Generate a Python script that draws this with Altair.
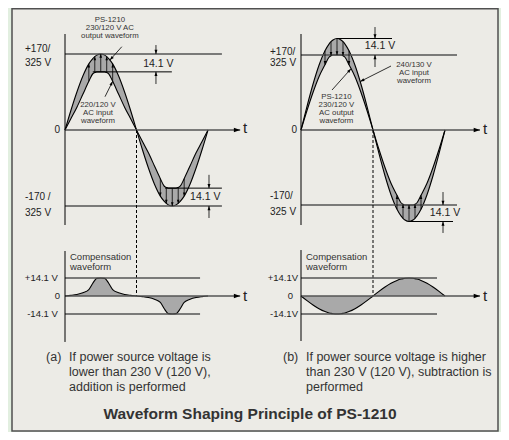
import math
import altair as alt
import pandas as pd

W, H = 493, 424
FONT = "Liberation Sans"
BG = "#e2efe0"
PANEL_BG = "#ecebe6"
FILL = "#a9a9a9"
GRID = "#555555"
INK = "#222222"
SHAPE = "M0,0L0.7,2L-0.7,2Z"

# ---------------- values ----------------
phase = [0, 15, 30, 45, 60, 70, 75, 80, 90, 100, 105, 110, 120, 135, 150, 165, 180,
         195, 210, 225, 240, 250, 255, 260, 270, 280, 285, 290, 300, 315, 330, 345, 360]

# (a) relative units, 1.0 = the +170/325 V line
a_output = [0, 0.26, 0.50, 0.71, 0.87, 0.94, 0.966, 0.985, 1.0, 0.985, 0.966, 0.94, 0.87, 0.71, 0.50, 0.26, 0,
            -0.26, -0.50, -0.71, -0.87, -0.94, -0.966, -0.985, -1.0, -0.985, -0.966, -0.94, -0.87, -0.71, -0.50, -0.26, 0]
a_input = [0, 0.15, 0.30, 0.47, 0.64, 0.74, 0.755, 0.765, 0.765, 0.765, 0.755, 0.74, 0.64, 0.47, 0.30, 0.15, 0,
           -0.15, -0.30, -0.47, -0.64, -0.74, -0.755, -0.765, -0.765, -0.765, -0.755, -0.74, -0.64, -0.47, -0.30, -0.15, 0]
# (a) compensation waveform, volts
a_comp = [0, 0.5, 1.2, 2.5, 5.0, 10.0, 12.3, 13.8, 14.1, 13.8, 12.3, 10.0, 5.0, 2.5, 1.2, 0.5, 0,
          -0.5, -1.2, -2.5, -5.0, -10.0, -12.3, -13.8, -14.1, -13.8, -12.3, -10.0, -5.0, -2.5, -1.2, -0.5, 0]

# (b) relative units
b_input = [0, 0.316, 0.61, 0.863, 1.057, 1.146, 1.178, 1.201, 1.22, 1.201, 1.178, 1.146, 1.057, 0.863, 0.61, 0.316, 0,
           -0.316, -0.61, -0.863, -1.057, -1.146, -1.178, -1.201, -1.22, -1.201, -1.178, -1.146, -1.057, -0.863, -0.61, -0.316, 0]
b_output = [0, 0.26, 0.50, 0.71, 0.87, 0.97, 0.99, 1.0, 1.0, 1.0, 0.99, 0.97, 0.87, 0.71, 0.50, 0.26, 0,
            -0.26, -0.50, -0.71, -0.87, -0.97, -0.99, -1.0, -1.0, -1.0, -0.99, -0.97, -0.87, -0.71, -0.50, -0.26, 0]
# (b) compensation waveform, volts
b_comp = [0, -3.65, -7.05, -9.97, -12.21, -13.25, -13.62, -13.89, -14.1, -13.89, -13.62, -13.25, -12.21, -9.97, -7.05, -3.65, 0,
          3.65, 7.05, 9.97, 12.21, 13.25, 13.62, 13.89, 14.1, 13.89, 13.62, 13.25, 12.21, 9.97, 7.05, 3.65, 0]

gap_arrow_phase = [60, 75, 90, 105, 120, 240, 255, 270, 285, 300]

title_text = "Waveform Shaping Principle of PS-1210"
caption_a = ["If power source voltage is", "lower than 230 V  (120 V),", "addition is performed"]
caption_b = ["If power source voltage is higher", "than 230 V  (120 V), subtraction is", "performed"]

# ---------------- panel geometry (chart pixels) ----------------
PA_UP = dict(x0=57, kx=143 / 360, y0=122, ky=76)
PA_LO = dict(x0=57, kx=143 / 360, y0=288, ky=18 / 14.1)
PB_UP = dict(x0=293, kx=144 / 360, y0=122, ky=75)
PB_LO = dict(x0=293, kx=144 / 360, y0=288, ky=18 / 14.1)


class Panel:
    def __init__(self, p):
        self.p = p
        self.xs = alt.Scale(domain=[-p["x0"] / p["kx"], (W - p["x0"]) / p["kx"]], nice=False, zero=False)
        self.ys = alt.Scale(domain=[(p["y0"] - H) / p["ky"], p["y0"] / p["ky"]], nice=False, zero=False)
        self.layers = []

    def X(self, f):
        return alt.X(f, type="quantitative", scale=self.xs, axis=None)

    def Y(self, f):
        return alt.Y(f, type="quantitative", scale=self.ys, axis=None)

    def fill(self, df, hi, lo):
        y2 = alt.Y2(lo) if isinstance(lo, str) else alt.datum(lo)
        self.layers.append(alt.Chart(df).mark_area(color=FILL, opacity=1, interpolate="monotone")
                           .encode(x=self.X("ph"), y=self.Y(hi), y2=y2))

    def curve(self, df, col, width=1.1):
        self.layers.append(alt.Chart(df).mark_line(color="black", strokeWidth=width, interpolate="monotone")
                           .encode(x=self.X("ph"), y=self.Y(col)))

    def segs(self, rows, **style):
        df = pd.DataFrame(rows, columns=["x", "x2", "y", "y2"])
        self.layers.append(alt.Chart(df).mark_rule(**style)
                           .encode(x=self.X("x"), x2="x2:Q", y=self.Y("y"), y2="y2:Q"))

    def heads(self, rows, size):
        df = pd.DataFrame(rows, columns=["x", "y", "ang"])
        self.layers.append(alt.Chart(df).mark_point(shape=SHAPE, filled=True, color="black", opacity=1,
                                                    size=size, strokeWidth=0)
                           .encode(x=self.X("x"), y=self.Y("y"), angle=alt.Angle("ang:Q", scale=None)))

    def arrows(self, pairs, size=18):
        segs, heads = [], []
        for (tx, ty), (hx, hy) in pairs:
            dx = self.p["kx"] * (hx - tx)
            dy = -self.p["ky"] * (hy - ty)
            ang = math.degrees(math.atan2(dx, -dy)) % 360
            segs.append((tx, hx, ty, hy))
            heads.append((hx, hy, ang))
        self.segs(segs, color="black", strokeWidth=0.8)
        self.heads(heads, size)

    def texts(self, rows, **style):
        df = pd.DataFrame(rows, columns=["x", "y", "text"])
        st = dict(font=FONT, baseline="middle", color=INK)
        st.update(style)
        self.layers.append(alt.Chart(df).mark_text(**st)
                           .encode(x=self.X("x"), y=self.Y("y"), text="text:N"))

    def chart(self):
        return alt.layer(*self.layers)


def gap_pairs(inp, out):
    return [((ph, inp[phase.index(ph)]), (ph, out[phase.index(ph)])) for ph in gap_arrow_phase]


# ---------------- (a) upper ----------------
A = Panel(PA_UP)
dfa = pd.DataFrame({"ph": phase, "out": a_output, "inp": a_input})
A.fill(dfa, "out", "inp")
A.curve(dfa, "out")
A.curve(dfa, "inp")
A.segs([(0, 395, 1, 1), (0, 395, -1, -1), (0, 441, 0, 0)], color=GRID, strokeWidth=1.4)
A.segs([(70, 269, 0.765, 0.765), (252, 395, -0.765, -0.765), (0, 0, -1.25, 1.263)], color="black", strokeWidth=1)
A.segs([(180, 180, 0, -2.184)], color="black", strokeWidth=1, strokeDash=[3, 2])
A.heads([(441, 0, 90)], 40)
A.arrows(gap_pairs(a_input, a_output), size=14)
A.arrows([((229, 1.118), (229, 1.0)), ((229, 0.605), (229, 0.765)),
          ((362.5, -0.59), (362.5, -0.765)), ((362.5, -1.158), (362.5, -1.0)),
          ((143, 1.096), (113, 0.92)), ((100.7, 0.438), (120, 0.64))], size=18)
A.texts([(113, 1.452, "PS-1210"), (113, 1.342, "230/120 V AC"), (113, 1.232, "output waveform"),
         (83, 0.335, "220/120 V"), (83, 0.225, "AC input"), (83, 0.115, "waveform")],
        fontSize=7.8, align="center", color="#333333")
A.texts([(235, 0.87, "14.1 V"), (353, -0.88, "14.1 V")], fontSize=10.5, align="center")
A.texts([(-100.7, 1.066, "+170/"), (-100.7, 0.882, "325 V"), (-100.7, -0.882, "-170 /"),
         (-100.7, -1.092, "325 V")], fontSize=10, align="left")
A.texts([(-12.6, 0, "0")], fontSize=10, align="right")
A.texts([(448, 0.02, "t")], fontSize=15, align="left")

# ---------------- (a) lower ----------------
AL = Panel(PA_LO)
dfac = pd.DataFrame({"ph": phase, "c": a_comp})
AL.fill(dfac, "c", 0)
AL.curve(dfac, "c")
AL.segs([(0, 340, 14.1, 14.1), (0, 340, -14.1, -14.1), (0, 441, 0, 0)], color=GRID, strokeWidth=1.4)
AL.segs([(0, 0, -36, 35.25)], color="black", strokeWidth=1)
AL.heads([(441, 0, 90)], 40)
AL.texts([(12.6, 30.7, "Compensation"), (12.6, 22.9, "waveform")], fontSize=9.5, align="left", color="#333333")
AL.texts([(-18, 14.1, "+14.1 V"), (-12.6, 0, "0"), (-18, -14.1, "-14.1 V")], fontSize=9.5, align="right")
AL.texts([(448, 0.3, "t")], fontSize=15, align="left")
AL.texts([(-47.8, -47.8, "(a)")], fontSize=12.5, align="left", color="#333333")
AL.texts([(10.1, -47.8, caption_a[0]), (10.1, -59.5, caption_a[1]), (10.1, -71.3, caption_a[2])],
         fontSize=12.5, align="left", color="#333333")

# ---------------- (b) upper ----------------
B = Panel(PB_UP)
dfb = pd.DataFrame({"ph": phase, "out": b_output, "inp": b_input})
B.fill(dfb, "inp", "out")
B.curve(dfb, "inp")
B.curve(dfb, "out")
B.segs([(0, 390, 1, 1), (0, 390, -1, -1), (0, 447.5, 0, 0)], color=GRID, strokeWidth=1.4)
B.segs([(90, 227.5, 1.22, 1.22), (270, 380, -1.22, -1.22), (0, 0, -1.267, 1.28)], color="black", strokeWidth=1)
B.segs([(180, 180, 0, -2.213)], color="black", strokeWidth=1, strokeDash=[3, 2])
B.heads([(447.5, 0, 90)], 40)
B.arrows(gap_pairs(b_input, b_output), size=14)
B.arrows([((185, 1.373), (185, 1.22)), ((185, 0.84), (185, 1.0)),
          ((355, -0.827), (355, -1.0)), ((355, -1.373), (355, -1.22)),
          ((225, 0.853), (148, 0.646)), ((77.5, 0.533), (125, 0.817))], size=18)
B.texts([(282.5, 0.867, "240/130 V"), (282.5, 0.757, "AC input"), (282.5, 0.647, "waveform"),
         (88.5, 0.445, "PS-1210"), (88.5, 0.335, "230/120 V"), (88.5, 0.225, "AC output"),
         (88.5, 0.115, "waveform")], fontSize=7.8, align="center", color="#333333")
B.texts([(197.5, 1.12, "14.1 V"), (360, -1.107, "14.1 V")], fontSize=10.5, align="center")
B.texts([(-77.5, 1.04, "+170/"), (-77.5, 0.893, "325 V"), (-77.5, -0.88, "-170/"),
         (-77.5, -1.093, "325 V")], fontSize=10, align="left")
B.texts([(-10, 0, "0")], fontSize=10, align="right")
B.texts([(455, 0.02, "t")], fontSize=15, align="left")

# ---------------- (b) lower ----------------
BL = Panel(PB_LO)
dfbc = pd.DataFrame({"ph": phase, "c": b_comp})
BL.fill(dfbc, "c", 0)
BL.curve(dfbc, "c")
BL.segs([(0, 340, 14.1, 14.1), (0, 340, -14.1, -14.1), (0, 447.5, 0, 0)], color=GRID, strokeWidth=1.4)
BL.segs([(0, 0, -35.25, 36)], color="black", strokeWidth=1)
BL.heads([(447.5, 0, 90)], 40)
BL.texts([(12.5, 30.7, "Compensation"), (12.5, 22.9, "waveform")], fontSize=9.5, align="left", color="#333333")
BL.texts([(-7.5, 14.1, "+14.1V"), (-7.5, -14.1, "-14.1V")], fontSize=9.5, align="right")
BL.texts([(-20, 0, "0")], fontSize=9.5, align="right")
BL.texts([(455, 0.3, "t")], fontSize=15, align="left")
BL.texts([(-45, -47.8, "(b)")], fontSize=12.5, align="left", color="#333333")
BL.texts([(12.5, -47.8, caption_b[0]), (12.5, -59.5, caption_b[1]), (12.5, -71.3, caption_b[2])],
         fontSize=12.5, align="left", color="#333333")

# ---------------- frame and title ----------------
frame = alt.Chart(pd.DataFrame({"k": [0]})).mark_rect(
    fill=PANEL_BG, stroke="#505050", strokeWidth=1.5
).encode(x=alt.value(4), x2=alt.value(490), y=alt.value(0.75), y2=alt.value(423))

title = alt.Chart(pd.DataFrame({"t": [title_text]})).mark_text(
    font=FONT, fontSize=15.5, fontWeight="bold", color="#333333", align="center", baseline="middle"
).encode(x=alt.value(242), y=alt.value(406), text="t:N")

chart = alt.layer(
    frame, A.chart(), AL.chart(), B.chart(), BL.chart(), title
).resolve_scale(
    x="independent", y="independent"
).properties(
    width=W, height=H, padding=0, autosize=alt.AutoSizeParams(type="none"), background=BG
).configure_view(strokeWidth=0)

chart.save("out.html", embed_options={"renderer": "svg", "actions": False})
